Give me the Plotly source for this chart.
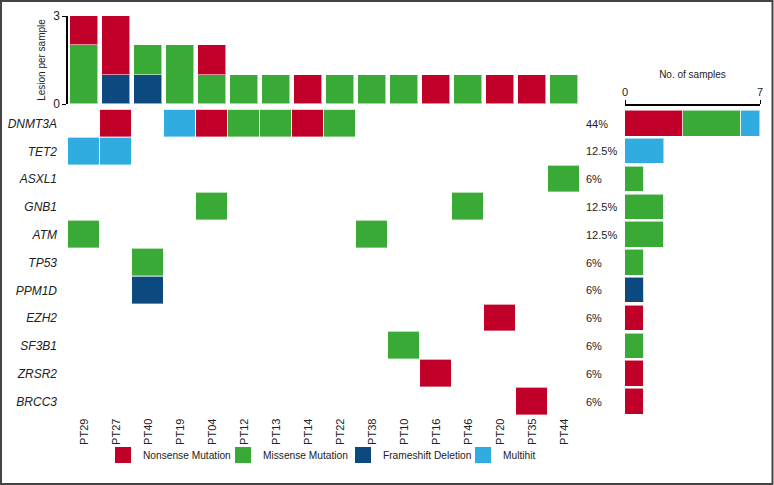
import plotly.graph_objects as go

W, H = 774, 485

patients = ["PT29", "PT27", "PT40", "PT19", "PT04", "PT12", "PT13", "PT14",
            "PT22", "PT38", "PT10", "PT16", "PT46", "PT20", "PT35", "PT44"]
genes = ["DNMT3A", "TET2", "ASXL1", "GNB1", "ATM", "TP53", "PPM1D",
         "EZH2", "SF3B1", "ZRSR2", "BRCC3"]
percents = ["44%", "12.5%", "6%", "12.5%", "12.5%", "6%", "6%", "6%", "6%", "6%", "6%"]

types = ["Nonsense Mutation", "Missense Mutation", "Frameshift Deletion", "Multihit"]
colors = {"Nonsense Mutation": "#C00028", "Missense Mutation": "#38AA35",
          "Frameshift Deletion": "#0B497E", "Multihit": "#30ACE1"}

# lesions per sample (top bar chart)
sample_frameshift = [0, 1, 1, 0, 0, 0, 0, 0, 0, 0, 0, 0, 0, 0, 0, 0]
sample_missense   = [2, 0, 1, 2, 1, 1, 1, 0, 1, 1, 1, 0, 1, 0, 0, 1]
sample_nonsense   = [1, 2, 0, 0, 1, 0, 0, 1, 0, 0, 0, 1, 0, 1, 1, 0]

# number of samples per gene (right bar chart)
gene_nonsense   = [3, 0, 0, 0, 0, 0, 0, 1, 0, 1, 1]
gene_missense   = [3, 0, 1, 2, 2, 1, 0, 0, 1, 0, 0]
gene_frameshift = [0, 0, 0, 0, 0, 0, 1, 0, 0, 0, 0]
gene_multihit   = [1, 2, 0, 0, 0, 0, 0, 0, 0, 0, 0]

# oncoprint cells: (gene, patient, type code) 1=Nonsense 2=Missense 3=Frameshift 4=Multihit
cells = [
    ("DNMT3A", "PT27", 1), ("DNMT3A", "PT19", 4), ("DNMT3A", "PT04", 1),
    ("DNMT3A", "PT12", 2), ("DNMT3A", "PT13", 2), ("DNMT3A", "PT14", 1),
    ("DNMT3A", "PT22", 2),
    ("TET2", "PT29", 4), ("TET2", "PT27", 4),
    ("ASXL1", "PT44", 2),
    ("GNB1", "PT04", 2), ("GNB1", "PT46", 2),
    ("ATM", "PT29", 2), ("ATM", "PT38", 2),
    ("TP53", "PT40", 2),
    ("PPM1D", "PT40", 3),
    ("EZH2", "PT20", 1),
    ("SF3B1", "PT10", 2),
    ("ZRSR2", "PT16", 1),
    ("BRCC3", "PT35", 1),
]

z = [[None] * len(patients) for _ in genes]
for g, p, c in cells:
    z[genes.index(g)][patients.index(p)] = c

def px_x(v):
    return v / W

def px_y(v):
    return (H - v) / H

FONT = "Liberation Sans, Arial, sans-serif"

fig = go.Figure()

edge = dict(color="rgba(255,255,255,0.55)", width=1)

# top stacked bars
for name, vals in [("Frameshift Deletion", sample_frameshift),
                   ("Missense Mutation", sample_missense),
                   ("Nonsense Mutation", sample_nonsense)]:
    fig.add_trace(go.Bar(x=patients, y=vals, marker=dict(color=colors[name], line=edge),
                         width=0.9, showlegend=False, xaxis="x", yaxis="y",
                         hoverinfo="skip"))

# oncoprint heatmap
cs = [[0, colors[types[0]]], [0.25, colors[types[0]]],
      [0.25, colors[types[1]]], [0.5, colors[types[1]]],
      [0.5, colors[types[2]]], [0.75, colors[types[2]]],
      [0.75, colors[types[3]]], [1, colors[types[3]]]]
fig.add_trace(go.Heatmap(x=patients, y=genes, z=z, colorscale=cs, zmin=0.5, zmax=4.5,
                         showscale=False, xgap=1, ygap=1, xaxis="x2", yaxis="y2",
                         hoverinfo="skip"))

# right stacked horizontal bars
for name, vals in [("Nonsense Mutation", gene_nonsense),
                   ("Missense Mutation", gene_missense),
                   ("Frameshift Deletion", gene_frameshift),
                   ("Multihit", gene_multihit)]:
    fig.add_trace(go.Bar(y=genes, x=vals, orientation="h",
                         marker=dict(color=colors[name], line=edge),
                         width=0.92, showlegend=False, xaxis="x3", yaxis="y2",
                         hoverinfo="skip"))

# legend entries
for name in types:
    fig.add_trace(go.Scatter(x=[None], y=[None], mode="markers", name=name,
                             marker=dict(symbol="square", size=16, color=colors[name]),
                             xaxis="x2", yaxis="y2"))

# percentages
for g, pct in zip(genes, percents):
    fig.add_annotation(x=px_x(584), xref="paper", y=g, yref="y2", text=pct,
                       showarrow=False, xanchor="left",
                       font=dict(family=FONT, size=11, color="#222"))

xdom = [px_x(68), px_x(580)]
fig.update_layout(
    width=W, height=H,
    margin=dict(l=0, r=0, t=0, b=0, autoexpand=False),
    paper_bgcolor="white", plot_bgcolor="white",
    barmode="stack", bargap=0,
    font=dict(family=FONT, size=11, color="#222"),
    xaxis=dict(domain=xdom, range=[-0.5, 15.5], type="category",
               categoryorder="array", categoryarray=patients, automargin=False,
               showticklabels=False, showgrid=False, zeroline=False, anchor="y"),
    yaxis=dict(domain=[px_y(104), px_y(16)], range=[0, 3], tickvals=[0, 3],
               ticks="outside", ticklen=4, tickcolor="#000", showline=True,
               linecolor="#000", linewidth=1.5, showgrid=False, zeroline=False,
               automargin=False,
               title=dict(text="Lesion per sample", font=dict(family=FONT, size=10),
                          standoff=6),
               tickfont=dict(size=12), anchor="x"),
    xaxis2=dict(domain=xdom, range=[-0.5, 15.5], type="category",
                categoryorder="array", categoryarray=patients, automargin=False,
                tickangle=-90, showgrid=False, zeroline=False, anchor="y2",
                tickfont=dict(size=11, color="#222")),
    yaxis2=dict(domain=[px_y(415.4), px_y(109.6)], range=[10.5, -0.5], type="category",
                categoryorder="array", categoryarray=genes, automargin=False,
                showgrid=False, zeroline=False, anchor="x2", ticklabelstandoff=10,
                tickfont=dict(size=12, style="italic", color="#222")),
    xaxis3=dict(domain=[px_x(625), px_x(760)], range=[0, 7], tickvals=[0, 7],
                side="top", anchor="free", position=px_y(105), automargin=False,
                ticks="outside", ticklen=4, tickcolor="#000", showline=True,
                linecolor="#000", linewidth=1.5, showgrid=False, zeroline=False,
                title=dict(text="No. of samples", font=dict(family=FONT, size=10),
                           standoff=4),
                tickfont=dict(size=11)),
    legend=dict(orientation="h", x=px_x(103), xanchor="left", y=px_y(455),
                yanchor="middle", font=dict(size=10.2), itemclick=False,
                traceorder="normal", bgcolor="rgba(0,0,0,0)", entrywidth=75),
    shapes=[dict(type="rect", xref="paper", yref="paper", x0=px_x(1), x1=px_x(772.5),
                 y0=px_y(484), y1=px_y(1), line=dict(color="#444", width=2))],
)

fig.write_html("out.html", config={"displayModeBar": False},
               post_script="document.body.style.margin='0';document.body.style.overflow='hidden';")
